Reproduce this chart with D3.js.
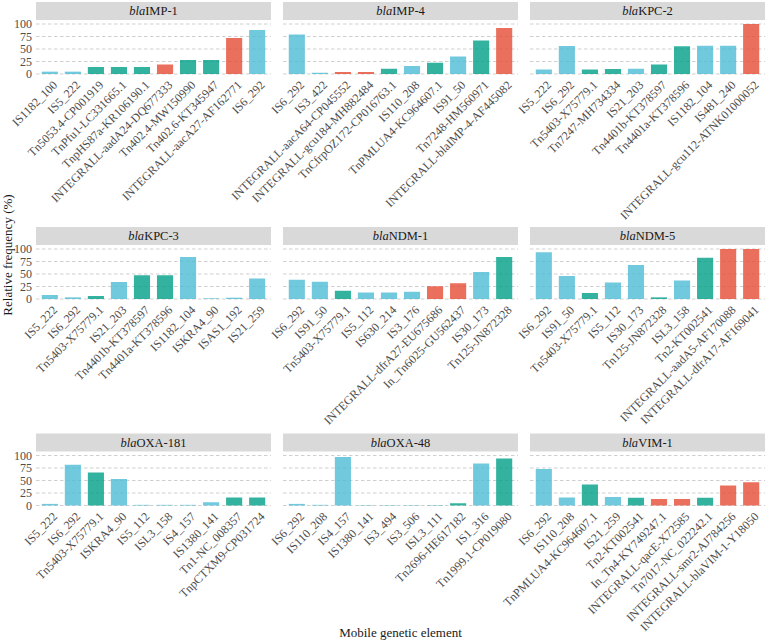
<!DOCTYPE html>
<html>
<head>
<meta charset="utf-8">
<script src="https://cdn.jsdelivr.net/npm/d3@7"></script>
<style>
  body { margin: 0; background: #fff; }
  svg text { font-family: "Liberation Serif", "DejaVu Serif", serif; }
</style>
</head>
<body>
<svg id="chart" width="767" height="643"></svg>
<script>
// gene panels, in facet order
var genes = ["IMP-1", "IMP-4", "KPC-2", "KPC-3", "NDM-1", "NDM-5", "OXA-181", "OXA-48", "VIM-1"];

// mobile elements per panel (x categories)
var imp1Elements = ["IS1182_100", "IS5_222", "Tn5053.4-CP001919", "TnPfu1-LC331665.1", "TnpHS87a-KR106190.1",
  "INTEGRALL-aadA24-DQ677333", "Tn402.4-MW150990", "Tn402.6-KT345947", "INTEGRALL-aacA27-AF162771", "IS6_292"];
var imp4Elements = ["IS6_292", "IS3_422", "INTEGRALL-aacA64-CP045552", "INTEGRALL-gcu184-MH882484", "TnCfrpOZ172-CP016763.1",
  "IS110_208", "TnPMLUA4-KC964607.1", "IS91_50", "Tn7248-HM560971", "INTEGRALL-blaIMP-4-AF445082"];
var kpc2Elements = ["IS5_222", "IS6_292", "Tn5403-X75779.1", "Tn7247-MH734334", "IS21_203",
  "Tn4401b-KT378597", "Tn4401a-KT378596", "IS1182_104", "IS481_240", "INTEGRALL-gcu112-ATNK01000052"];
var kpc3Elements = ["IS5_222", "IS6_292", "Tn5403-X75779.1", "IS21_203", "Tn4401b-KT378597",
  "Tn4401a-KT378596", "IS1182_104", "ISKRA4_90", "ISAS1_192", "IS21_259"];
var ndm1Elements = ["IS6_292", "IS91_50", "Tn5403-X75779.1", "IS5_112", "IS630_214",
  "IS3_176", "INTEGRALL-dfrA27-EU675686", "In_Tn6025-GU562437", "IS30_173", "Tn125-JN872328"];
var ndm5Elements = ["IS6_292", "IS91_50", "Tn5403-X75779.1", "IS5_112", "IS30_173",
  "Tn125-JN872328", "ISL3_158", "Tn2-KT002541", "INTEGRALL-aadA5-AF170088", "INTEGRALL-dfrA17-AF169041"];
var oxa181Elements = ["IS5_222", "IS6_292", "Tn5403-X75779.1", "ISKRA4_90", "IS5_112",
  "ISL3_158", "IS4_157", "IS1380_141", "Tn1-NC_008357", "TnpCTXM9-CP031724"];
var oxa48Elements = ["IS6_292", "IS110_208", "IS4_157", "IS1380_141", "IS3_494",
  "IS3_506", "ISL3_111", "Tn2696-HE617182", "IS1_316", "Tn1999.1-CP019080"];
var vim1Elements = ["IS6_292", "IS110_208", "TnPMLUA4-KC964607.1", "IS21_259", "Tn2-KT002541",
  "In_Tn4-KY749247.1", "INTEGRALL-qacE-X72585", "Tn7017-NC_022242.1", "INTEGRALL-smr2-AJ784256", "INTEGRALL-blaVIM-1-Y18050"];

// relative frequency (%) per panel
var imp1Values = [4.7, 4.7, 14, 14, 14, 19, 28, 28, 72, 88];
var imp4Values = [79, 2.5, 4, 4, 10.5, 16, 22.5, 35, 67, 92];
var kpc2Values = [9, 56, 9, 10, 10.5, 19, 55.5, 56.5, 56.5, 100];
var kpc3Values = [8, 3.3, 6, 34, 47.5, 47.5, 84, 1.3, 2.6, 41];
var ndm1Values = [38.5, 34.5, 16.5, 13, 13, 14.5, 25.5, 31.5, 54, 84];
var ndm5Values = [93.5, 46, 12, 33, 68, 3.3, 37, 82.5, 100, 100];
var oxa181Values = [3.2, 81.5, 66, 53, 1.3, 1.3, 1.3, 6.5, 16, 16];
var oxa48Values = [3.2, 1.3, 97, 0.8, 0.8, 0.8, 1, 4.5, 84, 94];
var vim1Values = [73, 16, 42, 17, 15.5, 13, 13, 15.5, 40, 46.5];

var yTicks = [0, 25, 50, 75, 100];

var elementSets = [imp1Elements, imp4Elements, kpc2Elements, kpc3Elements, ndm1Elements,
  ndm5Elements, oxa181Elements, oxa48Elements, vim1Elements];
var valueSets = [imp1Values, imp4Values, kpc2Values, kpc3Values, ndm1Values,
  ndm5Values, oxa181Values, oxa48Values, vim1Values];

var serif = "Liberation Serif, DejaVu Serif, serif";

// element type from its name: integron, transposon, insertion sequence
function elementType(name) {
  if (name.indexOf("INTEGRALL") === 0 || name.indexOf("In_") === 0) return "integron";
  if (name.indexOf("Tn") === 0) return "transposon";
  return "IS";
}
var color = d3.scaleOrdinal()
  .domain(["IS", "transposon", "integron"])
  .range(["#4DBBD5", "#00A087", "#E64B35"]);

var svg = d3.select("#chart").attr("font-family", serif);

// facet grid layout
var colX = [36, 283, 530],
    panelW = 235,
    rowTop = [2, 227, 433.5],
    stripH = 18,
    panelH = 55;

var y0 = d3.scaleLinear().domain([-5, 105]);

genes.forEach(function (gene, k) {
  var col = k % 3, row = Math.floor(k / 3);
  var left = colX[col];
  var top = rowTop[row];
  var pTop = top + stripH + 1.5;
  var pBottom = pTop + panelH;
  var elements = elementSets[k], values = valueSets[k];

  var x = d3.scaleLinear().domain([-0.6, elements.length - 1 + 0.6]).range([left, left + panelW]);
  var y = y0.copy().range([pBottom, pTop]);

  var g = svg.append("g").attr("class", "panel");

  // strip
  g.append("rect")
    .attr("x", left).attr("y", top)
    .attr("width", panelW).attr("height", stripH)
    .attr("fill", "#d9d9d9");
  var st = g.append("text")
    .attr("x", left + panelW / 2).attr("y", top + stripH / 2)
    .attr("dy", "0.35em")
    .attr("text-anchor", "middle")
    .attr("font-family", serif)
    .attr("font-size", 12.5)
    .attr("fill", "#1a1a1a");
  st.append("tspan").attr("font-style", "italic").text("bla");
  st.append("tspan").text(gene);

  // dashed grid
  g.selectAll("line.grid")
    .data(yTicks)
    .enter().append("line")
    .attr("class", "grid")
    .attr("x1", left).attr("x2", left + panelW)
    .attr("y1", function (d) { return y(d); })
    .attr("y2", function (d) { return y(d); })
    .attr("stroke", "#cfcfcf")
    .attr("stroke-width", 1)
    .attr("stroke-dasharray", "3.5,2.5");

  // y labels only on first column
  if (col === 0) {
    var yAxis = d3.axisLeft(y).tickValues(yTicks).tickSize(0).tickPadding(4);
    var ya = g.append("g").attr("transform", "translate(" + left + ",0)").call(yAxis);
    ya.attr("font-family", serif);
    ya.select(".domain").remove();
    ya.selectAll("text")
      .attr("font-family", serif)
      .attr("font-size", 12)
      .attr("fill", "#4d4d4d");
  }

  // bars
  g.selectAll("rect.bar")
    .data(values)
    .enter().append("rect")
    .attr("class", "bar")
    .attr("x", function (d, i) { return x(i - 0.35); })
    .attr("width", function (d, i) { return x(i + 0.35) - x(i - 0.35); })
    .attr("y", function (d) { return y(d); })
    .attr("height", function (d) { return y(0) - y(d); })
    .attr("fill", function (d, i) { return color(elementType(elements[i])); })
    .attr("fill-opacity", 0.8);

  // x labels, rotated
  g.selectAll("text.xlab")
    .data(elements)
    .enter().append("text")
    .attr("class", "xlab")
    .attr("transform", function (d, i) {
      return "translate(" + (x(i) + 4) + "," + (pBottom + 5) + ") rotate(-45)";
    })
    .attr("text-anchor", "end")
    .attr("dy", "0.5em")
    .attr("font-family", serif)
    .attr("font-size", 12)
    .attr("fill", "#4d4d4d")
    .text(function (d) { return d; });
});

// axis titles
svg.append("text")
  .attr("x", 400.5).attr("y", 637)
  .attr("text-anchor", "middle")
  .attr("font-family", serif)
  .attr("font-size", 13)
  .attr("fill", "#1a1a1a")
  .text("Mobile genetic element");

svg.append("text")
  .attr("transform", "translate(12,255) rotate(-90)")
  .attr("text-anchor", "middle")
  .attr("font-family", serif)
  .attr("font-size", 13)
  .attr("fill", "#1a1a1a")
  .text("Relative frequency (%)");
</script>
</body>
</html>
